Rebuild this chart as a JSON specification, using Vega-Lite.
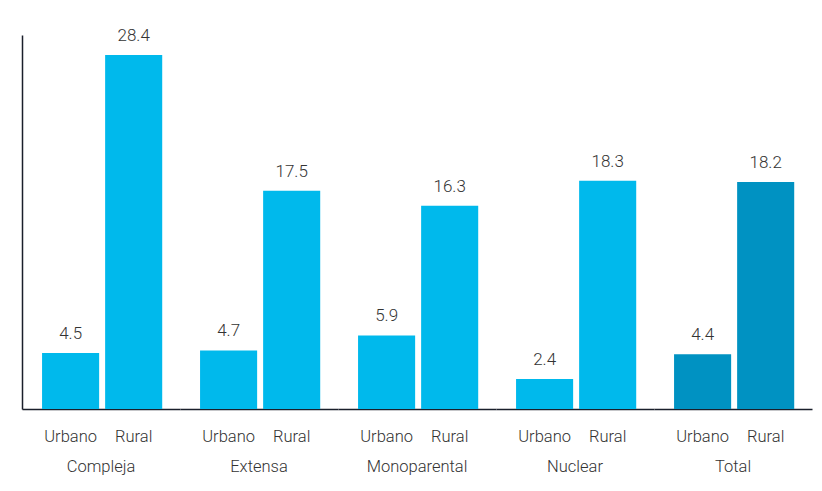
{
  "$schema": "https://vega.github.io/schema/vega-lite/v6.json",
  "padding": {"left": 22, "top": 26, "right": 8, "bottom": 5},
  "background": "white",
  "data": {"values": [
    {"tipo": "Compleja", "area": "Urbano", "valor": 4.5},
    {"tipo": "Compleja", "area": "Rural", "valor": 28.4},
    {"tipo": "Extensa", "area": "Urbano", "valor": 4.7},
    {"tipo": "Extensa", "area": "Rural", "valor": 17.5},
    {"tipo": "Monoparental", "area": "Urbano", "valor": 5.9},
    {"tipo": "Monoparental", "area": "Rural", "valor": 16.3},
    {"tipo": "Nuclear", "area": "Urbano", "valor": 2.4},
    {"tipo": "Nuclear", "area": "Rural", "valor": 18.3},
    {"tipo": "Total", "area": "Urbano", "valor": 4.4},
    {"tipo": "Total", "area": "Rural", "valor": 18.2}
  ]},
  "spacing": 0,
  "facet": {
    "column": {
      "field": "tipo",
      "type": "nominal",
      "sort": ["Compleja", "Extensa", "Monoparental", "Nuclear", "Total"],
      "header": {
        "labelOrient": "bottom",
        "title": null,
        "labelFont": "Roboto",
        "labelFontSize": 16.5,
        "labelFontWeight": 300,
        "labelColor": "#333333",
        "labelPadding": 14
      }
    }
  },
  "spec": {
    "width": 158,
    "height": 374,
    "encoding": {
      "x": {
        "field": "area",
        "type": "nominal",
        "sort": ["Urbano", "Rural"],
        "scale": {"paddingInner": 0.095, "paddingOuter": 0.3, "align": 0.53},
        "axis": {
          "title": null,
          "labelAngle": 0,
          "ticks": false,
          "tickSize": 0,
          "labelPadding": 19,
          "labelFont": "Roboto",
          "labelFontSize": 16.5,
          "labelFontWeight": 300,
          "labelColor": "#333333",
          "domainColor": "#1a1f2b",
          "domainWidth": 1.5
        }
      },
      "y": {
        "field": "valor",
        "type": "quantitative",
        "scale": {"domain": [0, 30], "nice": false},
        "axis": {
          "title": null,
          "labels": false,
          "ticks": false,
          "grid": false,
          "domainColor": "#1a1f2b",
          "domainWidth": 1.5
        }
      }
    },
    "layer": [
      {
        "mark": {"type": "bar"},
        "encoding": {
          "color": {
            "field": "tipo",
            "type": "nominal",
            "scale": {
              "domain": ["Compleja", "Extensa", "Monoparental", "Nuclear", "Total"],
              "range": ["#00B9EC", "#00B9EC", "#00B9EC", "#00B9EC", "#0092C2"]
            },
            "legend": null
          }
        }
      },
      {
        "mark": {"type": "text", "baseline": "alphabetic", "dy": -14, "font": "Roboto", "fontSize": 17, "fontWeight": 300, "color": "#333333"},
        "encoding": {
          "text": {"field": "valor", "type": "quantitative", "format": ".1f"}
        }
      }
    ]
  },
  "config": {"view": {"stroke": null}}
}
